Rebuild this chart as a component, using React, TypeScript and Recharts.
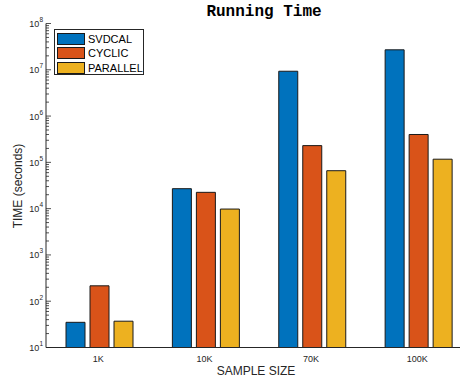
import React from 'react';
import { BarChart, Bar, XAxis, YAxis } from 'recharts';

const categories = ['1K', '10K', '70K', '100K'];
const svdcal = [35, 27000, 9300000, 27000000];
const cyclic = [215, 22500, 230000, 400000];
const parallel = [37, 9800, 66000, 117000];

const seriesNames = ['SVDCAL', 'CYCLIC', 'PARALLEL'];
const seriesColors = ['#0072BD', '#D95319', '#EDB120'];

const decades = [1, 2, 3, 4, 5, 6, 7];
const yTicks: number[] = [];
decades.forEach((e) => {
  for (let m = 1; m <= 9; m++) yTicks.push(m * Math.pow(10, e));
});
yTicks.push(1e8);

const data = categories.map((name, i) => ({
  name,
  SVDCAL: svdcal[i],
  CYCLIC: cyclic[i],
  PARALLEL: parallel[i],
}));

const AXIS = '#262626';

function YTick(props: any) {
  const { x, y, payload } = props;
  const v = payload.value;
  const exp = Math.round(Math.log10(v));
  const major = Math.abs(v - Math.pow(10, exp)) < 1e-6 * v;
  return (
    <g>
      <line x1={x} x2={x + (major ? 5 : 3)} y1={y} y2={y} stroke={AXIS} strokeWidth={0.8} />
      {major && (
        <text x={x - 3} y={y + 3.5} textAnchor="end" fontSize={9} fill={AXIS} fontFamily="Liberation Sans, Arial, sans-serif">
          10<tspan dy={-5} fontSize={6.5}>{exp}</tspan>
        </text>
      )}
    </g>
  );
}

function XTick(props: any) {
  const { x, y, payload } = props;
  return (
    <text x={x - 1} y={y + 14} textAnchor="middle" fontSize={9} fill={AXIS} fontFamily="Liberation Sans, Arial, sans-serif">
      {payload.value}
    </text>
  );
}

function LegendBox() {
  return (
    <div
      style={{
        position: 'absolute',
        left: 54,
        top: 29,
        width: 90,
        height: 46,
        border: '1px solid #262626',
        background: '#fff',
        fontFamily: 'Liberation Sans, Arial, sans-serif',
        fontSize: 11,
        color: '#000',
        boxSizing: 'border-box',
        paddingTop: 2,
      }}
    >
      {seriesNames.map((s, i) => (
        <div key={s} style={{ display: 'flex', alignItems: 'center', height: 14.3 }}>
          <div
            style={{
              width: 26,
              height: 10,
              marginLeft: 2,
              marginRight: 3,
              background: seriesColors[i],
              border: '1px solid #1a1a1a',
            }}
          />
          <span>{s}</span>
        </div>
      ))}
    </div>
  );
}

export default function App() {
  return (
    <div style={{ position: 'absolute', left: 0, top: 0, width: 460, height: 381, overflow: 'hidden', background: '#fff' }}>
      <div
        style={{
          position: 'absolute',
          left: 164,
          width: 200,
          top: 3,
          textAlign: 'center',
          fontFamily: 'Liberation Mono, Courier New, monospace',
          fontWeight: 'bold',
          fontSize: 16,
          color: '#000',
        }}
      >
        Running Time
      </div>
      <div
        style={{
          position: 'absolute',
          left: 18,
          top: 185.5,
          transform: 'translate(-50%, -50%) rotate(-90deg)',
          whiteSpace: 'nowrap',
          fontFamily: 'Liberation Sans, Arial, sans-serif',
          fontSize: 12,
          color: AXIS,
        }}
      >
        TIME (seconds)
      </div>
      <div
        style={{
          position: 'absolute',
          left: 256,
          top: 371,
          transform: 'translate(-50%, -50%)',
          whiteSpace: 'nowrap',
          fontFamily: 'Liberation Sans, Arial, sans-serif',
          fontSize: 12,
          color: AXIS,
        }}
      >
        SAMPLE SIZE
      </div>
      <BarChart
        width={480}
        height={381}
        data={data}
        margin={{ top: 23.5, right: 8.5, bottom: 3.5, left: 0 }}
        barSize={19}
        barGap={5}
        style={{ position: 'absolute', left: 0, top: 0 }}
      >
        <XAxis
          dataKey="name"
          height={30}
          axisLine={{ stroke: AXIS, strokeWidth: 1 }}
          tickLine={false}
          tickSize={0}
          tickMargin={0}
          tick={<XTick />}
          interval={0}
        />
        <YAxis
          width={46}
          scale="log"
          domain={[10, 1e8]}
          allowDataOverflow
          ticks={yTicks}
          interval={0}
          axisLine={{ stroke: AXIS, strokeWidth: 1 }}
          tickLine={false}
          tickSize={0}
          tickMargin={0}
          tick={<YTick />}
        />
        {seriesNames.map((s, i) => (
          <Bar key={s} dataKey={s} fill={seriesColors[i]} stroke="#1a1a1a" strokeWidth={1} isAnimationActive={false} />
        ))}
      </BarChart>
      <LegendBox />
    </div>
  );
}
